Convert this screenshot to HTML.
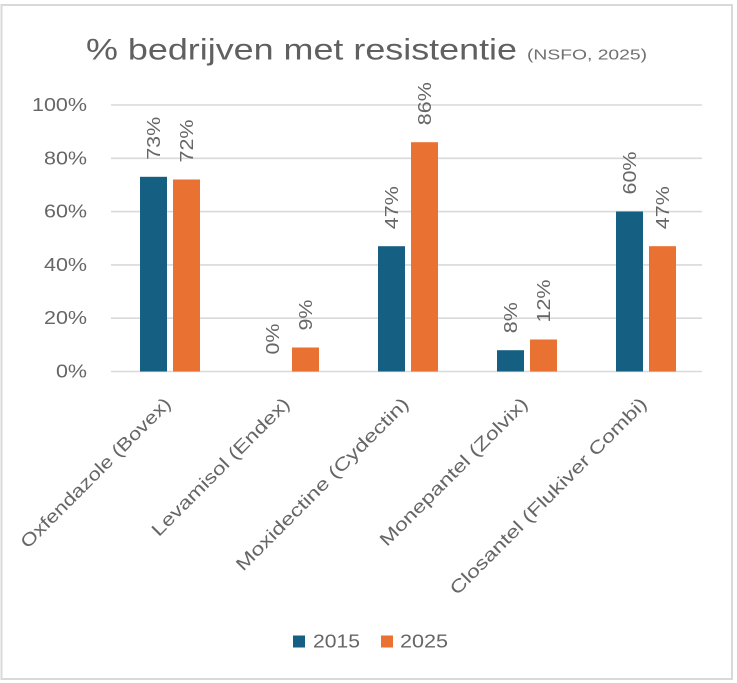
<!DOCTYPE html>
<html>
<head>
<meta charset="utf-8">
<style>
  html,body{margin:0;padding:0;background:#fff;}
  svg{display:block;}
  text{font-family:"Liberation Sans",Arial,sans-serif;fill:#666;}
</style>
</head>
<body>
<svg width="737" height="683" viewBox="0 0 737 683" xmlns="http://www.w3.org/2000/svg">
  <rect x="0" y="0" width="737" height="683" fill="#fff"/>
  <rect x="1.5" y="5" width="730.5" height="674" fill="none" stroke="#d9d9d9" stroke-width="2"/>

  <!-- Title -->
  <text x="86" y="59.5" font-size="29.5" textLength="431" lengthAdjust="spacingAndGlyphs" style="fill:#606060">% bedrijven met resistentie</text>
  <text x="527" y="59.5" font-size="14.5" textLength="120" lengthAdjust="spacingAndGlyphs" style="fill:#707070">(NSFO, 2025)</text>

  <!-- Gridlines -->
  <g stroke="#d9d9d9" stroke-width="1.6">
    <line x1="111" y1="105" x2="702" y2="105"/>
    <line x1="111" y1="158.3" x2="702" y2="158.3"/>
    <line x1="111" y1="211.6" x2="702" y2="211.6"/>
    <line x1="111" y1="264.9" x2="702" y2="264.9"/>
    <line x1="111" y1="318.2" x2="702" y2="318.2"/>
    <line x1="111" y1="371.5" x2="702" y2="371.5"/>
  </g>

  <!-- Y axis labels -->
  <g font-size="18" text-anchor="end">
    <text x="87" y="111" textLength="55" lengthAdjust="spacingAndGlyphs">100%</text>
    <text x="87" y="164.3" textLength="43" lengthAdjust="spacingAndGlyphs">80%</text>
    <text x="87" y="217.6" textLength="43" lengthAdjust="spacingAndGlyphs">60%</text>
    <text x="87" y="270.9" textLength="43" lengthAdjust="spacingAndGlyphs">40%</text>
    <text x="87" y="324.2" textLength="43" lengthAdjust="spacingAndGlyphs">20%</text>
    <text x="87" y="377.5" textLength="31" lengthAdjust="spacingAndGlyphs">0%</text>
  </g>

  <!-- Bars 2015 -->
  <g fill="#156082">
    <rect x="140" y="176.8" width="27" height="194.7"/>
    <rect x="378" y="246.2" width="27" height="125.3"/>
    <rect x="497" y="350.2" width="27" height="21.3"/>
    <rect x="616" y="211.5" width="27" height="160"/>
  </g>
  <!-- Bars 2025 -->
  <g fill="#E97132">
    <rect x="173" y="179.5" width="27" height="192"/>
    <rect x="292" y="347.5" width="27" height="24"/>
    <rect x="411" y="142.2" width="27" height="229.3"/>
    <rect x="530" y="339.5" width="27" height="32"/>
    <rect x="649" y="246.2" width="27" height="125.3"/>
  </g>

  <!-- Data labels (rotated) -->
  <g font-size="18">
    <text transform="translate(160,159.8) rotate(-90)" textLength="43" lengthAdjust="spacingAndGlyphs">73%</text>
    <text transform="translate(193,162.5) rotate(-90)" textLength="43" lengthAdjust="spacingAndGlyphs">72%</text>
    <text transform="translate(279,354.5) rotate(-90)" textLength="31" lengthAdjust="spacingAndGlyphs">0%</text>
    <text transform="translate(312,330.5) rotate(-90)" textLength="31" lengthAdjust="spacingAndGlyphs">9%</text>
    <text transform="translate(398,229.2) rotate(-90)" textLength="43" lengthAdjust="spacingAndGlyphs">47%</text>
    <text transform="translate(431,125.2) rotate(-90)" textLength="43" lengthAdjust="spacingAndGlyphs">86%</text>
    <text transform="translate(517,333.2) rotate(-90)" textLength="31" lengthAdjust="spacingAndGlyphs">8%</text>
    <text transform="translate(550,322.5) rotate(-90)" textLength="43" lengthAdjust="spacingAndGlyphs">12%</text>
    <text transform="translate(636,194.5) rotate(-90)" textLength="43" lengthAdjust="spacingAndGlyphs">60%</text>
    <text transform="translate(669,229.2) rotate(-90)" textLength="43" lengthAdjust="spacingAndGlyphs">47%</text>
  </g>

  <!-- Category labels -->
  <g font-size="18" text-anchor="end">
    <text transform="translate(172,405) rotate(-45)" textLength="204" lengthAdjust="spacingAndGlyphs">Oxfendazole (Bovex)</text>
    <text transform="translate(291,405) rotate(-45)" textLength="187" lengthAdjust="spacingAndGlyphs">Levamisol (Endex)</text>
    <text transform="translate(410,405) rotate(-45)" textLength="236" lengthAdjust="spacingAndGlyphs">Moxidectine (Cydectin)</text>
    <text transform="translate(529,405) rotate(-45)" textLength="201" lengthAdjust="spacingAndGlyphs">Monepantel (Zolvix)</text>
    <text transform="translate(648,405) rotate(-45)" textLength="270" lengthAdjust="spacingAndGlyphs">Closantel (Flukiver Combi)</text>
  </g>

  <!-- Legend -->
  <rect x="293" y="635.5" width="12" height="12" fill="#156082"/>
  <text x="313" y="647.5" font-size="18" textLength="47" lengthAdjust="spacingAndGlyphs">2015</text>
  <rect x="381" y="635.5" width="12" height="12" fill="#E97132"/>
  <text x="400" y="647.5" font-size="18" textLength="48" lengthAdjust="spacingAndGlyphs">2025</text>
</svg>
</body>
</html>
